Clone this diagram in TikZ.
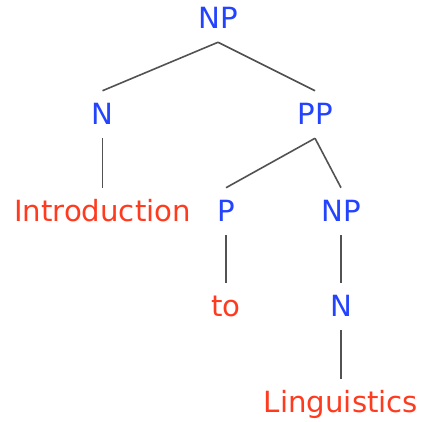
\documentclass[tikz,border=0pt]{standalone}
\usepackage{fontspec}
\setmainfont{DejaVu Sans}
\usepackage{tikz}
\usetikzlibrary{positioning}

\definecolor{catblue}{RGB}{35,67,255}
\definecolor{wordred}{RGB}{255,59,31}

\begin{document}
\begin{tikzpicture}[x=0.75pt, y=-0.75pt,
    label/.style={anchor=base, inner xsep=0pt, inner ysep=9pt,
        text height=15.75pt, text depth=1.5pt,
        font=\fontsize{21.9}{26}\selectfont},
    cat/.style={label, text=catblue},
    word/.style={label, text=wordred},
    branch/.style={draw=black!68, line width=1.2pt}]
\useasboundingbox (0,0) rectangle (423,421);

% Draw the categories and the words, one row after another
\node[cat] (np) at (218,28) {NP};
\node[cat] (n) at (102.5,124) {N};
\node[cat] (pp) at (315,124) {PP};
\node[word] (intro) at (102.5,221) {Introduction};
\node[cat] (p) at (226,221) {P};
\node[cat] (np2) at (341,221) {NP};
\node[word] (to) at (226,316) {to};
\node[cat] (n2) at (341,316) {N};
\node[word] (ling) at (341,412) {Linguistics};

% Connect each node to its children
\foreach \up/\down in {np/n, np/pp, n/intro, pp/p, pp/np2, p/to, np2/n2, n2/ling} {
    \draw[branch] (\up.south) -- (\down.north);
}
\end{tikzpicture}
\end{document}
